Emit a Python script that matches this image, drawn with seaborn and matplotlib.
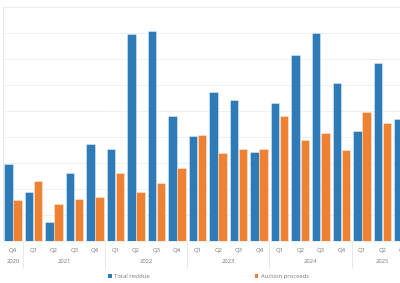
import numpy as np
import pandas as pd
import matplotlib
matplotlib.use("Agg")
import matplotlib.pyplot as plt
import matplotlib.transforms as mtransforms
from matplotlib.patches import Patch
import seaborn as sns

# quarterly data, values in grid units
quarters = ["Q4",
            "Q1", "Q2", "Q3", "Q4",
            "Q1", "Q2", "Q3", "Q4",
            "Q1", "Q2", "Q3", "Q4",
            "Q1", "Q2", "Q3", "Q4",
            "Q1", "Q2", "Q3"]
years = ["2020"] + ["2021"] * 4 + ["2022"] * 4 + ["2023"] * 4 + ["2024"] * 4 + ["2025"] * 3
total_residue = [2.96, 1.87, 0.73, 2.60, 3.73, 3.55, 7.95, 8.09, 4.82, 4.04,
                 5.74, 5.42, 3.44, 5.31, 7.15, 8.00, 6.08, 4.23, 6.85, 4.71]
auction_proceeds = [1.58, 2.31, 1.41, 1.60, 1.68, 2.62, 1.87, 2.24, 2.82, 4.07,
                    3.40, 3.55, 3.53, 4.79, 3.88, 4.15, 3.50, 4.96, 4.54, np.nan]
series_names = ["Total residue", "Auction proceeds"]
colors = ["#2e7bb7", "#ef8133"]

keys = [f"{q} {y}" for q, y in zip(quarters, years)]
df = pd.DataFrame({
    "period": keys * 2,
    "value": total_residue + auction_proceeds,
    "series": [series_names[0]] * len(keys) + [series_names[1]] * len(keys),
})

sns.set_style("white")
plt.rcParams["font.family"] = ["Open Sans", "DejaVu Sans"]

fig = plt.figure(figsize=(4.0, 2.83), dpi=100)
W, H = 400, 283
left, right, top, bottom = 2.7, 413.1, 7, 241
ax = fig.add_axes([left / W, 1 - bottom / H, (right - left) / W, (bottom - top) / H])

sns.barplot(data=df, x="period", y="value", hue="series", order=keys,
            hue_order=series_names, palette=colors, saturation=1, width=0.88, gap=0.06,
            errorbar=None, edgecolor=(1, 1, 1, 0.45), linewidth=0.6,
            legend=False, ax=ax)

ax.set_xlim(-0.5, len(keys) - 0.5)
ax.set_ylim(0, 9)
ax.set_yticks(range(0, 10))
ax.set_yticklabels([])
ax.yaxis.grid(True, color="#efefef", linewidth=0.7)
ax.set_axisbelow(True)
ax.tick_params(axis="y", length=0)
ax.set_xticks(range(len(keys)))
ax.set_xticklabels(quarters, fontsize=4.2, color="#777777")
ax.tick_params(axis="x", length=0, pad=5)
ax.set_xlabel("")
ax.set_ylabel("")
for side in ["top", "right"]:
    ax.spines[side].set_visible(False)
ax.spines["left"].set_color("#e4ebf2")
ax.spines["left"].set_linewidth(0.7)
ax.spines["bottom"].set_color("#eeeeee")
ax.spines["bottom"].set_linewidth(0.7)

# year labels and separators
trans = mtransforms.blended_transform_factory(ax.transData, ax.transAxes)
year_list = list(dict.fromkeys(years))
for yr in year_list:
    idx = [i for i, y in enumerate(years) if y == yr]
    ax.text(np.mean(idx), -0.087, yr, transform=trans, ha="center", va="center",
            fontsize=4.2, color="#777777")
    if idx[0] > 0:
        ax.plot([idx[0] - 0.5] * 2, [0, -0.115], transform=trans, color="#e8e8e8",
                linewidth=0.7, clip_on=False)

handles = [Patch(facecolor=c, edgecolor="none") for c in colors]
fig.legend(handles, series_names, loc="center", bbox_to_anchor=(208.5 / W, 1 - 276.7 / H),
           ncol=2, frameon=False, fontsize=4.2, handlelength=0.6, handleheight=0.6,
           handletextpad=0.4, columnspacing=18, labelcolor="#777777")

fig.savefig("out.png", dpi=100)
